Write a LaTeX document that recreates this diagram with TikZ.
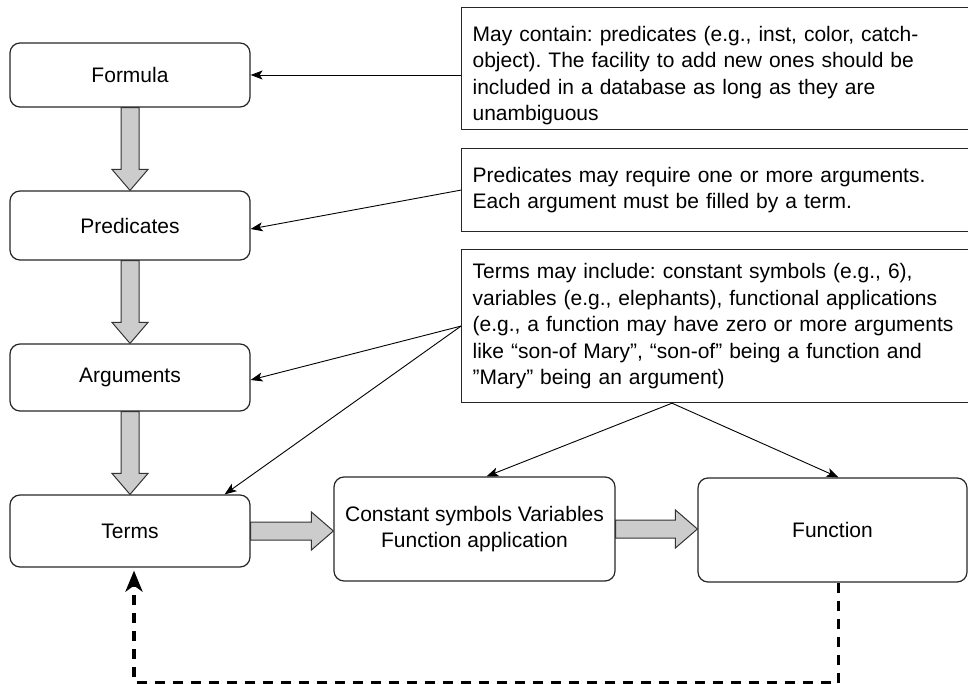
\documentclass[tikz,border=0pt]{standalone}
\usepackage{fontspec}
\setmainfont{Liberation Sans}
\usetikzlibrary{arrows.meta,calc}
\begin{document}
\frenchspacing
\begin{tikzpicture}[x=1pt,y=-1pt,
  txt/.style={font=\fontsize{21}{26.5}\selectfont},
  lbox/.style={txt, draw=black!85, line width=1.2pt, rounded corners=10pt,
    minimum width=240pt, align=center, inner sep=0pt},
  rbox/.style={txt, draw=black!85, line width=1.2pt, anchor=north west,
    align=left, text width=510pt, inner xsep=11pt, inner ysep=0pt},
  blk/.style={draw=black!80, line width=1pt, fill=black!20},
  vblk/.style={to path={let \p1=(\tikztostart), \p2=(\tikztotarget) in
    (\x1-9pt,\y1) -- (\x1-9pt,\y2+21pt) -- (\x1-18pt,\y2+21pt) -- (\x1,\y2)
    -- (\x1+18pt,\y2+21pt) -- (\x1+9pt,\y2+21pt) -- (\x1+9pt,\y1) -- cycle}},
  hblk/.style={to path={let \p1=(\tikztostart), \p2=(\tikztotarget) in
    (\x1,\y1+9pt) -- (\x2-22pt,\y1+9pt) -- (\x2-22pt,\y1+19pt) -- (\x2,\y1)
    -- (\x2-22pt,\y1-19pt) -- (\x2-22pt,\y1-9pt) -- (\x1,\y1-9pt) -- cycle}},
  conn/.style={-{Stealth[length=12pt,width=9pt,inset=3pt]}, line width=0.9pt},
  fb/.style={-{Stealth[length=21pt,width=17pt,inset=6pt]}, line width=3.8pt,
    dash pattern=on 10pt off 8pt}
]
\useasboundingbox (0,0) rectangle (968,684);
\clip (0,0) rectangle (968,684);

% left column
\node[lbox, minimum height=64pt] (f) at (130,75) {Formula};
\node[lbox, minimum height=69pt] (p) at (130,225.5) {Predicates};
\node[lbox, minimum height=67pt] (a) at (130,377.5) {Arguments};
\node[lbox, minimum height=72pt] (t) at (130,531) {Terms};

% bottom row
\node[lbox, minimum width=281pt, minimum height=104pt] (c) at (474.5,529)
  {Constant symbols Variables\\Function application};
\node[lbox, minimum width=269pt, minimum height=104pt] (fn) at (832.5,530)
  {Function};

% right notes
\node[rbox, minimum height=122pt] (b1) at (461,7)
  {\rule{0pt}{29pt}May contain: predicates (e.g., inst, color, catch-\\object). The facility to add new ones should be\\included in a database as long as they are\\unambiguous};
\node[rbox, minimum height=83pt] (b2) at (461,148)
  {Predicates may require one or more arguments.\\Each argument must be filled by a term.};
\node[rbox, minimum height=153pt] (b3) at (461,249)
  {Terms may include: constant symbols (e.g., 6),\\variables (e.g., elephants), functional applications\\(e.g., a function may have zero or more arguments\\like “son-of Mary”, “son-of” being a function and\\”Mary” being an argument)};

% block arrows
\draw[blk] (f.south) to[vblk] (p.north);
\draw[blk] (p.south) to[vblk] (a.north);
\draw[blk] (a.south) to[vblk] (t.north);
\draw[blk] (t.east) to[hblk] (c.west);
\draw[blk] (c.east) to[hblk] (fn.west);

% thin connectors
\draw[conn] (f.east -| b1.west) -- (f.east);
\draw[conn] (b2.west) -- ($(p.east)+(0,3.5)$);
\draw[conn] (b3.west) -- ($(a.east)+(0,2.5)$);
\draw[conn] (b3.west) -- ($(t.north east)+(-26,0)$);
\coordinate (b3s) at ($(b3.south west)+(211,0)$);
\draw[conn] (b3s) -- ($(c.north)+(12,0)$);
\draw[conn] (b3s) -- ($(fn.north)+(6,0)$);

% dashed feedback
\draw[fb] ($(fn.south)+(6,0)$) -- ++(0,100) -| ($(t.south)+(4,3)$);
\end{tikzpicture}
\end{document}
